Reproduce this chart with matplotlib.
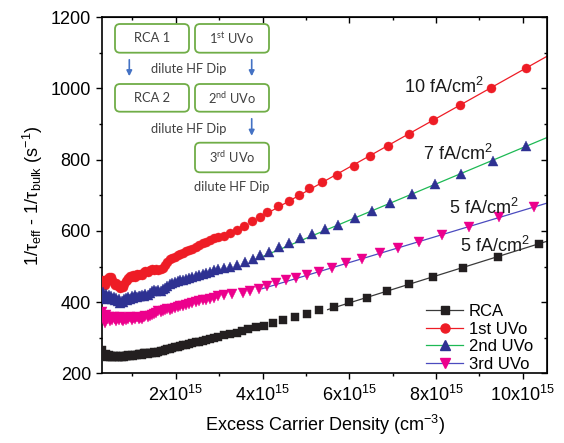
import matplotlib
matplotlib.use('Agg')
import matplotlib.pyplot as plt
from matplotlib.lines import Line2D
from matplotlib.patches import FancyBboxPatch, FancyArrowPatch
from matplotlib.ticker import MultipleLocator, NullFormatter
import numpy as np

plt.rcParams['font.family'] = ['Liberation Sans', 'DejaVu Sans']
plt.rcParams['mathtext.fontset'] = 'custom'
plt.rcParams['mathtext.rm'] = 'Liberation Sans'
plt.rcParams['mathtext.it'] = 'Liberation Sans:italic'
plt.rcParams['mathtext.bf'] = 'Liberation Sans:bold'

# ---------------- data (x in units of 1e15 cm^-3) ----------------
x_low = [0.30, 0.33, 0.36, 0.39, 0.42, 0.45, 0.48, 0.51, 0.54, 0.57,
         0.60, 0.63, 0.66, 0.69, 0.72, 0.75, 0.78, 0.81, 0.84, 0.87,
         0.90, 0.94, 0.98, 1.02, 1.06, 1.10, 1.14, 1.18, 1.22, 1.26,
         1.30, 1.35, 1.40, 1.45, 1.50, 1.55, 1.60, 1.65, 1.70, 1.75,
         1.80, 1.86, 1.92, 1.98, 2.04, 2.10, 2.17, 2.24, 2.31, 2.38,
         2.46, 2.54, 2.62, 2.70, 2.79, 2.88, 2.98]

uvo1_y_low = [452, 462, 447, 458, 464, 470, 466, 472, 463, 455,
              449, 455, 444, 448, 440, 446, 443, 452, 458, 463,
              468, 474, 471, 476, 470, 478, 475, 480, 477, 484,
              488, 485, 491, 494, 490, 493, 489, 492, 497, 505,
              514, 521, 525, 528, 532, 536, 538, 543, 547, 550,
              555, 560, 565, 569, 574, 579, 582]
uvo1_x_high = [3.10, 3.25, 3.41, 3.58, 3.75, 3.93, 4.11, 4.35, 4.60, 4.83, 5.08,
               5.37, 5.71, 6.10, 6.48, 6.89, 7.38, 7.94, 8.55, 9.26, 10.08]
uvo1_y_high = [587, 593, 603, 614, 627, 640, 653, 669, 684, 701, 720,
               738, 758, 783, 810, 839, 871, 910, 952, 1002, 1057]

uvo2_y_low = [418, 428, 410, 424, 415, 420, 412, 418, 409, 414,
              406, 412, 403, 408, 398, 404, 400, 408, 412, 406,
              414, 409, 417, 412, 419, 414, 418, 416, 420, 418,
              423, 420, 426, 430, 433, 431, 434, 432, 436, 441,
              446, 451, 455, 457, 459, 461, 463, 465, 468, 470,
              473, 476, 479, 482, 485, 489, 493]
uvo2_x_high = [3.10, 3.25, 3.41, 3.60, 3.78, 3.94, 4.16, 4.39, 4.62, 4.87, 5.14,
               5.44, 5.75, 6.14, 6.52, 6.94, 7.44, 7.98, 8.58, 9.31, 10.08]
uvo2_y_high = [497, 499, 505, 512, 521, 531, 542, 555, 566, 579, 590,
               604, 617, 636, 657, 678, 703, 731, 759, 797, 838]

uvo3_y_low = [372, 360, 342, 365, 352, 358, 348, 356, 350, 359,
              353, 347, 355, 349, 357, 351, 346, 354, 350, 356,
              352, 357, 350, 355, 353, 358, 354, 356, 352, 358,
              360, 357, 362, 364, 368, 371, 374, 372, 376, 378,
              380, 379, 382, 384, 386, 388, 390, 392, 394, 397,
              400, 403, 405, 407, 410, 413, 416]
uvo3_x_high = [3.10, 3.30, 3.55, 3.71, 3.91, 4.10, 4.31, 4.54, 4.78, 5.02, 5.31,
               5.60, 5.93, 6.29, 6.70, 7.13, 7.61, 8.14, 8.75, 9.44, 10.25]
uvo3_y_high = [419, 422, 426, 432, 438, 446, 453, 461, 467, 477, 485,
               496, 509, 521, 537, 551, 568, 588, 611, 638, 667]

rca_y_low = [266, 252, 249, 254, 246, 251, 247, 250, 245, 249,
             246, 250, 247, 245, 249, 246, 248, 247, 250, 248,
             251, 249, 252, 250, 253, 251, 254, 255, 253, 256,
             257, 255, 258, 257, 259, 258, 260, 262, 264, 266,
             268, 270, 272, 274, 275, 277, 279, 281, 283, 285,
             287, 289, 292, 294, 297, 300, 303]
rca_x_high = [3.10, 3.25, 3.40, 3.52, 3.67, 3.85, 4.04, 4.25, 4.48, 4.75, 5.02,
              5.31, 5.65, 6.00, 6.41, 6.87, 7.38, 7.94, 8.63, 9.42, 10.37]
rca_y_high = [307, 310, 314, 318, 325, 329, 334, 342, 351, 359, 368,
              377, 387, 401, 413, 431, 451, 472, 497, 527, 564]

# linear fits (J0 lines)
uvo1_fit_x = [4.0, 10.56]
uvo1_fit_y = [642, 1090]
uvo2_fit_x = [4.0, 10.56]
uvo2_fit_y = [528, 862]
uvo3_fit_x = [4.0, 10.56]
uvo3_fit_y = [438, 678]
rca_fit_x = [5.5, 10.56]
rca_fit_y = [379, 571]

series_names = ['RCA', '1st UVo', '2nd UVo', '3rd UVo']
fit_labels = ['5 fA/cm$^\\mathregular{2}$', '10 fA/cm$^\\mathregular{2}$',
              '7 fA/cm$^\\mathregular{2}$', '5 fA/cm$^\\mathregular{2}$']
xtick_vals = [2, 4, 6, 8, 10]
xtick_labels = ['2x10$^\\mathregular{15}$', '4x10$^\\mathregular{15}$', '6x10$^\\mathregular{15}$',
                '8x10$^\\mathregular{15}$', '10x10$^\\mathregular{15}$']

# ---------------- figure ----------------
fig = plt.figure(figsize=(5.64, 4.43), dpi=100)
ax = fig.add_axes([0.181, 0.157, 0.789, 0.8045])

data = [
    (x_low + rca_x_high, rca_y_low + rca_y_high, rca_fit_x, rca_fit_y, 's', 6.0, '#231f20', '#3a3a3a'),
    (x_low + uvo1_x_high, uvo1_y_low + uvo1_y_high, uvo1_fit_x, uvo1_fit_y, 'o', 6.5, '#ee1c25', '#ee1c25'),
    (x_low + uvo2_x_high, uvo2_y_low + uvo2_y_high, uvo2_fit_x, uvo2_fit_y, '^', 7.2, '#2e3192', '#1db954'),
    (x_low + uvo3_x_high, uvo3_y_low + uvo3_y_high, uvo3_fit_x, uvo3_fit_y, 'v', 7.2, '#ec008c', '#4b4bbf'),
]

handles = []
for (xs, ys, fx, fy, mk, ms, mc, lc), name in zip(data, series_names):
    ax.plot(fx, fy, color=lc, lw=0.9, zorder=2)
    ax.plot(xs, ys, ls='none', marker=mk, ms=ms, mfc=mc, mec=mc, mew=0.3, zorder=3)
    handles.append(Line2D([], [], color=lc, lw=0.9, marker=mk, ms=ms, mfc=mc, mec=mc, label=name))

ax.set_xlim(0.3, 10.56)
ax.set_ylim(200, 1200)
ax.set_xticks(xtick_vals)
ax.set_xticklabels(xtick_labels)
ax.xaxis.set_minor_locator(MultipleLocator(1))
ax.yaxis.set_major_locator(MultipleLocator(200))
ax.yaxis.set_minor_locator(MultipleLocator(100))
ax.tick_params(which='both', direction='out', labelsize=13, width=1.0, pad=4)
ax.tick_params(which='major', length=4)
ax.tick_params(which='minor', length=2.5)
for s in ax.spines.values():
    s.set_linewidth(1.2)

secx = ax.secondary_xaxis('top')
secx.set_xticks(xtick_vals)
secx.xaxis.set_minor_locator(MultipleLocator(1))
secx.xaxis.set_major_formatter(NullFormatter())
secx.tick_params(which='both', direction='in', width=1.0)
secx.tick_params(which='major', length=4.5)
secx.tick_params(which='minor', length=2.5)
secy = ax.secondary_yaxis('right')
secy.yaxis.set_major_locator(MultipleLocator(200))
secy.yaxis.set_minor_locator(MultipleLocator(100))
secy.yaxis.set_major_formatter(NullFormatter())
secy.tick_params(which='both', direction='in', width=1.0)
secy.tick_params(which='major', length=4.5)
secy.tick_params(which='minor', length=2.5)

ax.set_xlabel('Excess Carrier Density (cm$^\\mathregular{-3}$)', fontsize=13, labelpad=6)
ax.set_ylabel('1/τ$_\\mathregular{eff}$ - 1/τ$_\\mathregular{bulk}$ (s$^\\mathregular{-1}$)', fontsize=13, labelpad=4)

# fit annotations
ann_pos = [(8.56, 542), (7.27, 988), (7.70, 799), (8.30, 647)]
for (tx, ty), lab in zip(ann_pos, fit_labels):
    ax.text(tx, ty, lab, fontsize=13, ha='left', va='baseline', color='#1a1a1a', zorder=4)

leg = ax.legend(handles=handles, loc='lower right', bbox_to_anchor=(0.972, 0.0),
                frameon=False, fontsize=12, handlelength=2.2, handletextpad=0.35,
                labelspacing=0.15, borderpad=0.1, borderaxespad=0.0, numpoints=1)

# ---------------- process flow inset (pixel positions converted to inches) ----------------
H = 443.0
tr = fig.dpi_scale_trans
box_green = '#70ad47'
arrow_blue = '#4472c4'
txt_col = '#404040'
flow_font = ['Lato', 'DejaVu Sans']

def box(x0, x1, y0, y1, label):
    p = FancyBboxPatch((x0 / 100, (H - y1) / 100), (x1 - x0) / 100, (y1 - y0) / 100,
                       boxstyle='round,pad=0,rounding_size=0.05', transform=tr,
                       fc='white', ec=box_green, lw=1.3, zorder=5)
    fig.add_artist(p)
    fig.text((x0 + x1) / 200, (H - (y0 + y1) / 2) / 100, label, transform=tr,
             ha='center', va='center', fontsize=9.3, color=txt_col, family=flow_font, zorder=6)

def arrow(x, y0, y1):
    a = FancyArrowPatch((x / 100, (H - y0) / 100), (x / 100, (H - y1) / 100), transform=tr,
                        arrowstyle='-|>', mutation_scale=8, color=arrow_blue, lw=1.2, zorder=5)
    fig.add_artist(a)

def flowtext(xc, yc, label):
    fig.text(xc / 100, (H - yc) / 100, label, transform=tr, ha='center', va='center',
             fontsize=9.3, color=txt_col, family=flow_font, zorder=6)

box(115, 189, 24, 52.7, 'RCA 1')
box(195, 269, 24, 52.7, '1$^\\mathregular{st}$ UVo')
box(115, 189, 84, 111.7, 'RCA 2')
box(195, 269, 84, 111.7, '2$^\\mathregular{nd}$ UVo')
box(195, 269, 142.7, 172.3, '3$^\\mathregular{rd}$ UVo')
arrow(129.3, 57, 79)
arrow(251.7, 57, 79)
arrow(251.7, 116, 138.5)
flowtext(189, 69.3, 'dilute HF Dip')
flowtext(189, 129, 'dilute HF Dip')
flowtext(232, 187.3, 'dilute HF Dip')

fig.savefig('out.png', dpi=100)
